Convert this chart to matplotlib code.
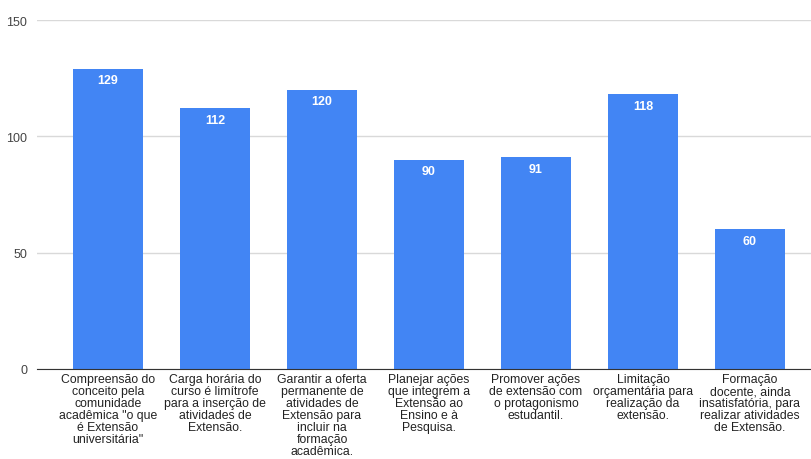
import matplotlib.pyplot as plt

categorias = [
    "Compreensão do\nconceito pela\ncomunidade\nacadêmica \"o que\né Extensão\nuniversitária\"",
    "Carga horária do\ncurso é limítrofe\npara a inserção de\natividades de\nExtensão.",
    "Garantir a oferta\npermanente de\natividades de\nExtensão para\nincluir na\nformação\nacadêmica.",
    "Planejar ações\nque integrem a\nExtensão ao\nEnsino e à\nPesquisa.",
    "Promover ações\nde extensão com\no protagonismo\nestudantil.",
    "Limitação\norçamentária para\nrealização da\nextensão.",
    "Formação\ndocente, ainda\ninsatisfatória, para\nrealizar atividades\nde Extensão.",
]
valores = [129, 112, 120, 90, 91, 118, 60]
yticks = [0, 50, 100, 150]

plt.rcParams['font.family'] = ['Liberation Sans', 'DejaVu Sans']

fig = plt.figure(figsize=(8.12, 4.6), dpi=100)
ax = fig.add_axes([37 / 812, 1 - 370 / 460, 1 - 37 / 812, 349 / 460])

x = list(range(len(valores)))
ax.bar(x, valores, width=0.654, color="#4285F4", zorder=3)

for xi, v in zip(x, valores):
    ax.text(xi, v - 2.3, str(v), ha="center", va="top", color="white",
            fontsize=9, fontweight="bold", zorder=4)

ax.set_xlim(-0.664, 6.58)
ax.set_ylim(0, 150)
ax.set_yticks(yticks)
ax.set_yticklabels([str(t) for t in yticks], fontsize=9, color="#444444")
ax.set_xticks(x)
ax.set_xticklabels(categorias, fontsize=8.8, color="#222222", linespacing=1.0)
ax.tick_params(axis="both", length=0)
ax.tick_params(axis="y", pad=7)
ax.tick_params(axis="x", pad=3)

ax.grid(axis="y", color="#d9d9d9", linewidth=1, zorder=0)
for s in ["top", "right", "left"]:
    ax.spines[s].set_visible(False)
ax.spines["bottom"].set_color("#333333")
ax.spines["bottom"].set_zorder(5)

fig.savefig("out.png", dpi=100)
